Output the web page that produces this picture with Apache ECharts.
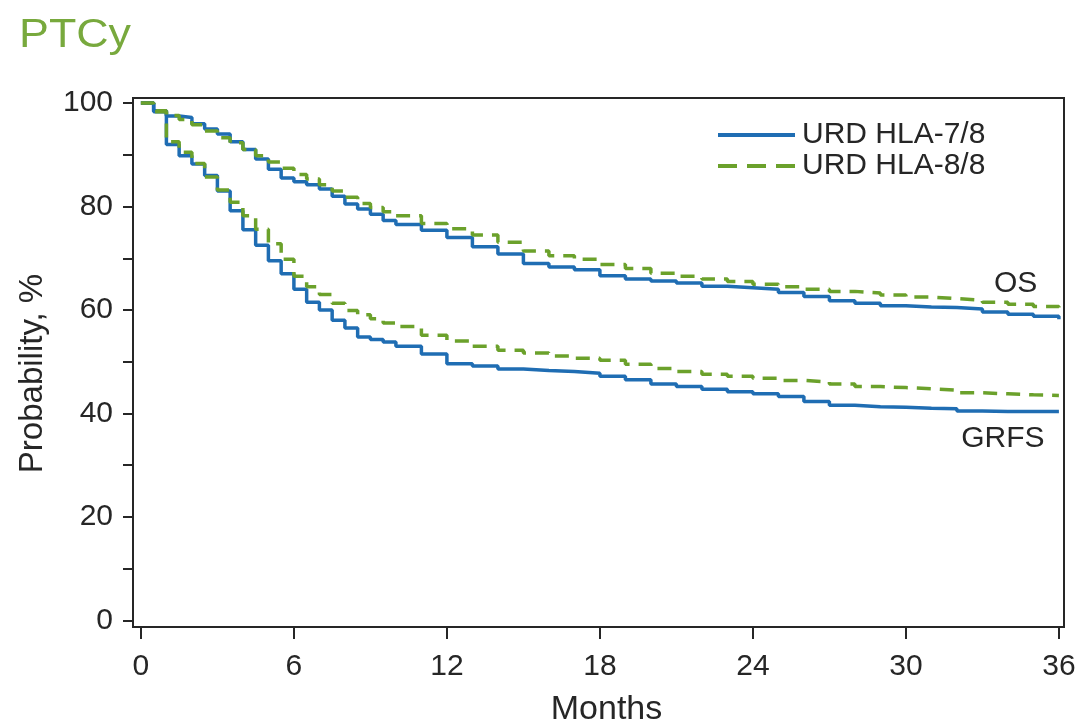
<!DOCTYPE html>
<html>
<head>
<meta charset="utf-8">
<title>PTCy</title>
<script src="https://cdn.jsdelivr.net/npm/echarts@6/dist/echarts.min.js"></script>
<style>
  html, body { margin: 0; padding: 0; background: #ffffff; }
  #chart { width: 1083px; height: 727px; }
</style>
</head>
<body>
<div id="chart"></div>
<script>
// Follow-up times (months) at which each Kaplan–Meier estimate is listed
const months = [0, 0.5, 1, 1.5, 2, 2.5, 3, 3.5, 4, 4.5, 5, 5.5, 6, 6.5, 7, 7.5, 8, 8.5, 9, 9.5,
  10, 11, 12, 13, 14, 15, 16, 17, 18, 19, 20, 21, 22, 23, 24, 25, 26, 27, 28, 29, 30,
  31, 32, 33, 34, 35, 36];

// Overall survival, %
const osHla78 = [100, 98.5, 97.5, 97.2, 96, 95, 94, 92.5, 91, 89.2, 87.2, 85.5, 84.8, 84.2, 83.4, 82, 80.5, 79.5, 78.5, 77.3,
  76.5, 75.4, 74, 72.2, 70.8, 69, 68.3, 67.8, 66.6, 66, 65.6, 65.2, 64.6, 64.3, 64, 63.4, 62.6, 61.8, 61.3, 60.8, 60.6,
  60.5, 60.2, 59.6, 59.2, 58.8, 58.2];
const osHla88 = [100, 98.5, 97.6, 96.8, 95.8, 94.6, 93.3, 92.3, 91, 89.8, 88.6, 87.4, 86.2, 85.3, 84.2, 83, 81.8, 80.6, 79.8, 79,
  78.2, 76.7, 75.7, 74.5, 73.1, 71.4, 70.5, 69.8, 68.8, 68, 67.1, 66.5, 66, 65.5, 65, 64.5, 64, 63.6, 63.3, 62.9, 62.5,
  62.2, 61.9, 61.5, 61.1, 60.7, 60.2];

// GVHD-free, relapse-free survival, %
const grfsHla78 = [100, 98.3, 92, 89.8, 88.2, 86, 83, 79.2, 75.5, 72.5, 69.5, 67, 64, 61.5, 60, 58, 56.5, 54.8, 54.3, 53.8,
  53, 51.5, 49.6, 49.2, 48.6, 48.3, 48.1, 47.8, 47.2, 46.5, 45.7, 45.2, 44.7, 44.2, 43.8, 43.3, 42.3, 41.6, 41.3, 41.2, 41,
  40.9, 40.5, 40.4, 40.4, 40.4, 40.4];
const grfsHla88 = [100, 98.3, 92.5, 90.5, 88.3, 85.7, 83.2, 80.8, 78.2, 75.6, 72.8, 69.8, 66.5, 64.5, 63, 61.3, 59.9, 59.1, 58.3, 57.5,
  56.8, 55.1, 54, 53, 52.2, 51.7, 51.1, 50.7, 50.3, 49.5, 48.7, 48.1, 47.6, 47.2, 46.8, 46.4, 46.1, 45.7, 45.2, 45, 44.8,
  44.5, 44, 43.8, 43.6, 43.5, 43.4];

// Axis ticks
const xTicks = [0, 6, 12, 18, 24, 30, 36];
const yTicks = [0, 10, 20, 30, 40, 50, 60, 70, 80, 90, 100];
const yLabels = [0, 20, 40, 60, 80, 100];

// Curve end-labels, placed in data coordinates
const curveLabels = [
  { name: 'OS', coord: [34.3, 65.0] },
  { name: 'GRFS', coord: [33.8, 35.1] }
];

const BLUE = '#1f6db3';
const GREEN = '#6ba12b';
const INK = '#262626';
const FONT = '"Liberation Sans", Arial, sans-serif';

// Legend swatches: a solid bar and a three-dash bar
const SOLID_ICON = 'path://M0,0H77V4H0Z';
const DASH_ICON = 'path://M0,0H19V4H0Z M29,0H48V4H29Z M58,0H77V4H58Z';

const pairs = (ys) => months.map((m, i) => [m, ys[i]]);

function curve(name, ys, color, dashed, extra) {
  return Object.assign({
    name: name,
    type: 'line',
    step: 'end',
    symbol: 'none',
    silent: true,
    animation: false,
    data: pairs(ys),
    lineStyle: {
      color: color,
      width: 3.5,
      type: dashed ? [14, 9] : 'solid'
    },
    itemStyle: { color: color }
  }, extra || {});
}

const chart = echarts.init(document.getElementById('chart'), null, { renderer: 'canvas' });

chart.setOption({
  backgroundColor: '#ffffff',
  animation: false,
  textStyle: { fontFamily: FONT },
  graphic: [{
    type: 'text',
    left: 19,
    top: 16,
    scaleX: 1.12,
    style: {
      text: 'PTCy',
      fill: '#78a93d',
      font: '40px "Liberation Sans", Arial, sans-serif'
    }
  }],
  legend: {
    orient: 'vertical',
    left: 713,
    top: 115,
    itemWidth: 77,
    itemHeight: 4,
    itemGap: 1,
    data: [
      { name: 'URD HLA-7/8', icon: SOLID_ICON },
      { name: 'URD HLA-8/8', icon: DASH_ICON }
    ],
    textStyle: { color: INK, fontSize: 30, fontFamily: FONT, lineHeight: 30, padding: [0, 0, 0, 2] },
    selectedMode: false
  },
  grid: {
    left: 133,
    right: 19,
    top: 98,
    bottom: 100,
    outerBoundsMode: 'none',
    containLabel: false,
    show: true,
    borderColor: INK,
    borderWidth: 2,
    backgroundColor: 'transparent'
  },
  xAxis: {
    type: 'value',
    min: -0.31,
    max: 36.2,
    name: 'Months',
    nameLocation: 'middle',
    nameGap: 66,
    nameTextStyle: { color: INK, fontSize: 34, fontFamily: FONT, padding: [0, 0, 0, 16] },
    splitLine: { show: false },
    axisLine: { show: true, onZero: false, lineStyle: { color: INK, width: 2 } },
    axisTick: { show: true, length: 12, lineStyle: { color: INK, width: 2 }, customValues: xTicks },
    axisLabel: { color: INK, fontSize: 30, margin: 25, fontFamily: FONT, customValues: xTicks }
  },
  yAxis: {
    type: 'value',
    min: -1.26,
    max: 100.97,
    name: 'Probability, %',
    nameLocation: 'middle',
    nameGap: 84,
    nameRotate: 90,
    nameTextStyle: { color: INK, fontSize: 33, fontFamily: FONT, padding: [0, 22, 0, 0] },
    splitLine: { show: false },
    axisLine: { show: true, onZero: false, lineStyle: { color: INK, width: 2 } },
    axisTick: { show: true, length: 10, lineStyle: { color: INK, width: 2 }, customValues: yTicks },
    axisLabel: { color: INK, fontSize: 30, margin: 20, fontFamily: FONT, customValues: yLabels }
  },
  series: [
    curve('URD HLA-7/8', osHla78, BLUE, false),
    curve('URD HLA-8/8', osHla88, GREEN, true),
    curve('URD HLA-7/8', grfsHla78, BLUE, false, {
      markPoint: {
        silent: true,
        symbol: 'circle',
        symbolSize: 0,
        label: {
          show: true,
          position: 'inside',
          formatter: (p) => p.name,
          color: INK,
          fontSize: 30,
          fontFamily: FONT
        },
        data: curveLabels
      }
    }),
    curve('URD HLA-8/8', grfsHla88, GREEN, true)
  ]
});
</script>
</body>
</html>
